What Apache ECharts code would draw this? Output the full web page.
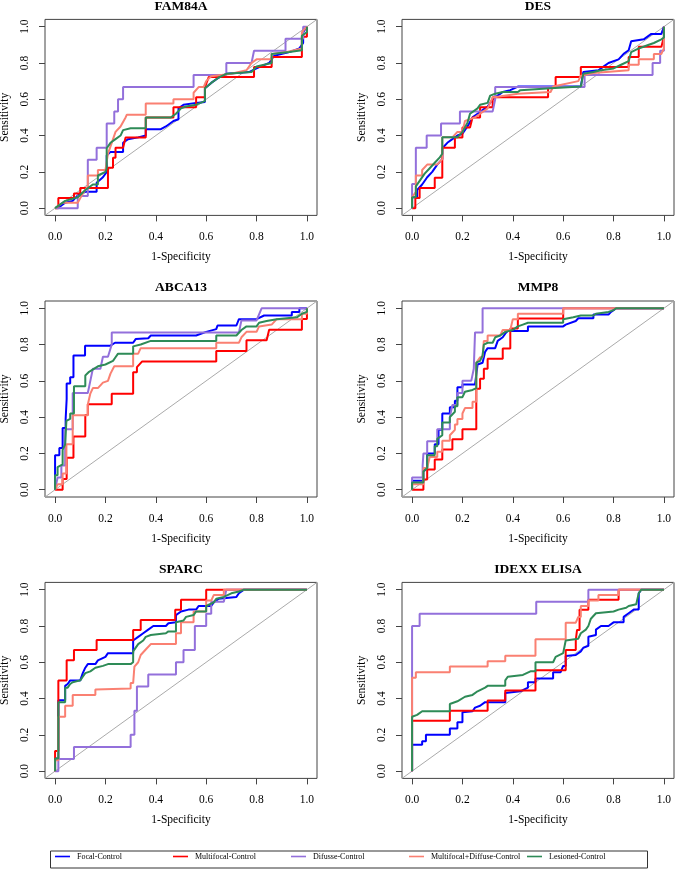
<!DOCTYPE html>
<html>
<head>
<meta charset="utf-8">
<script src="https://cdn.jsdelivr.net/npm/echarts@6/dist/echarts.min.js"></script>
<style>
html,body{margin:0;padding:0;background:#fff;}
#chart{width:675px;height:869px;}
</style>
</head>
<body>
<div id="chart"></div>
<script>
// ---------- DATA ----------
const panelTitles = ['FAM84A', 'DES', 'ABCA13', 'MMP8', 'SPARC', 'IDEXX ELISA'];
const seriesNames = ['Focal-Control', 'Multifocal-Control', 'Difusse-Control', 'Multifocal+Diffuse-Control', 'Lesioned-Control'];
const tickValues = [0, 0.2, 0.4, 0.6, 0.8, 1.0];
const xAxisTitle = '1-Specificity';
const yAxisTitle = 'Sensitivity';

// points are [1-specificity, sensitivity]
const FAM84A_focal = [[0,0],[0.02,0.01],[0.04,0.03],[0.07,0.04],[0.09,0.07],[0.12,0.09],[0.165,0.09],[0.165,0.14],[0.19,0.17],[0.205,0.2],[0.205,0.29],[0.22,0.31],[0.27,0.31],[0.27,0.36],[0.29,0.38],[0.33,0.39],[0.36,0.4],[0.36,0.435],[0.42,0.435],[0.44,0.45],[0.47,0.48],[0.49,0.49],[0.49,0.55],[0.51,0.57],[0.56,0.58],[0.595,0.585],[0.595,0.66],[0.62,0.69],[0.65,0.72],[0.68,0.74],[0.77,0.75],[0.8,0.77],[0.85,0.8],[0.87,0.84],[0.93,0.86],[0.97,0.88],[0.985,0.91],[0.985,0.97],[1,1]];
const FAM84A_multifocal = [[0,0],[0.013,0],[0.013,0.056],[0.075,0.056],[0.075,0.08],[0.1,0.08],[0.1,0.111],[0.21,0.111],[0.21,0.222],[0.23,0.222],[0.23,0.278],[0.24,0.278],[0.24,0.333],[0.27,0.333],[0.28,0.389],[0.36,0.389],[0.36,0.5],[0.47,0.5],[0.47,0.556],[0.56,0.556],[0.56,0.611],[0.595,0.611],[0.595,0.667],[0.61,0.722],[0.79,0.722],[0.79,0.778],[0.86,0.778],[0.86,0.833],[0.98,0.833],[0.98,0.944],[1,0.944],[1,1]];
const FAM84A_difusse = [[0,0],[0.09,0],[0.09,0.067],[0.13,0.067],[0.13,0.267],[0.165,0.267],[0.165,0.333],[0.205,0.333],[0.205,0.467],[0.235,0.467],[0.235,0.533],[0.25,0.533],[0.25,0.6],[0.27,0.6],[0.27,0.667],[0.55,0.667],[0.55,0.733],[0.68,0.733],[0.68,0.8],[0.78,0.8],[0.79,0.867],[0.915,0.867],[0.915,0.933],[0.985,0.933],[0.985,1],[1,1]];
const FAM84A_multiDiffuse = [[0,0],[0.03,0.03],[0.09,0.03],[0.11,0.08],[0.13,0.12],[0.13,0.18],[0.17,0.18],[0.17,0.21],[0.2,0.21],[0.21,0.3],[0.225,0.36],[0.24,0.42],[0.26,0.45],[0.28,0.5],[0.285,0.515],[0.36,0.515],[0.36,0.576],[0.47,0.576],[0.47,0.6],[0.55,0.6],[0.55,0.636],[0.57,0.667],[0.59,0.667],[0.6,0.7],[0.62,0.727],[0.7,0.74],[0.76,0.76],[0.78,0.8],[0.8,0.82],[0.86,0.82],[0.86,0.85],[0.92,0.86],[0.98,0.88],[0.98,0.97],[1,1]];
const FAM84A_lesioned = [[0,0],[0.04,0.04],[0.09,0.06],[0.12,0.1],[0.15,0.13],[0.17,0.13],[0.17,0.18],[0.2,0.2],[0.205,0.22],[0.205,0.33],[0.22,0.36],[0.24,0.38],[0.26,0.4],[0.27,0.43],[0.3,0.44],[0.36,0.44],[0.36,0.5],[0.46,0.5],[0.48,0.52],[0.5,0.55],[0.52,0.56],[0.56,0.57],[0.595,0.59],[0.595,0.66],[0.62,0.69],[0.65,0.72],[0.68,0.74],[0.78,0.75],[0.8,0.78],[0.86,0.8],[0.86,0.85],[0.93,0.86],[0.98,0.87],[0.98,0.95],[1,0.97],[1,1]];

const DES_focal = [[0,0],[0,0.06],[0.02,0.06],[0.02,0.1],[0.04,0.13],[0.06,0.17],[0.08,0.2],[0.1,0.24],[0.12,0.27],[0.12,0.33],[0.14,0.36],[0.16,0.38],[0.18,0.4],[0.2,0.41],[0.22,0.45],[0.24,0.5],[0.26,0.52],[0.28,0.54],[0.3,0.56],[0.32,0.6],[0.34,0.62],[0.36,0.64],[0.39,0.65],[0.42,0.67],[0.67,0.67],[0.68,0.75],[0.74,0.76],[0.76,0.78],[0.78,0.8],[0.82,0.82],[0.84,0.85],[0.86,0.87],[0.87,0.92],[0.92,0.93],[0.95,0.96],[0.99,0.96],[1,1]];
const DES_multifocal = [[0,0],[0.013,0],[0.013,0.056],[0.03,0.056],[0.03,0.111],[0.09,0.111],[0.09,0.167],[0.12,0.167],[0.12,0.333],[0.17,0.333],[0.17,0.389],[0.2,0.389],[0.2,0.444],[0.23,0.444],[0.24,0.5],[0.27,0.5],[0.27,0.556],[0.32,0.556],[0.32,0.611],[0.54,0.611],[0.54,0.667],[0.57,0.667],[0.57,0.722],[0.67,0.722],[0.67,0.778],[0.86,0.778],[0.86,0.833],[0.9,0.833],[0.9,0.889],[0.99,0.889],[1,0.944],[1,1]];
const DES_difusse = [[0,0],[0,0.133],[0.015,0.133],[0.015,0.333],[0.058,0.333],[0.058,0.4],[0.115,0.4],[0.115,0.467],[0.19,0.467],[0.19,0.533],[0.32,0.533],[0.33,0.6],[0.33,0.667],[0.685,0.667],[0.685,0.733],[0.955,0.733],[0.955,0.8],[0.985,0.8],[0.985,0.867],[1,0.867],[1,1]];
const DES_multiDiffuse = [[0,0],[0,0.06],[0.015,0.09],[0.015,0.18],[0.04,0.18],[0.04,0.21],[0.06,0.24],[0.1,0.24],[0.12,0.27],[0.12,0.39],[0.16,0.39],[0.18,0.42],[0.2,0.42],[0.21,0.48],[0.25,0.5],[0.27,0.52],[0.3,0.55],[0.31,0.58],[0.32,0.61],[0.42,0.63],[0.55,0.64],[0.56,0.67],[0.66,0.7],[0.67,0.73],[0.72,0.745],[0.86,0.76],[0.86,0.79],[0.9,0.79],[0.9,0.82],[0.96,0.82],[0.96,0.85],[0.99,0.85],[1,0.88],[1,1]];
const DES_lesioned = [[0,0],[0,0.06],[0.015,0.06],[0.015,0.12],[0.03,0.15],[0.05,0.19],[0.07,0.22],[0.09,0.25],[0.11,0.28],[0.12,0.3],[0.12,0.39],[0.18,0.39],[0.2,0.42],[0.22,0.47],[0.23,0.52],[0.26,0.55],[0.27,0.57],[0.3,0.58],[0.31,0.62],[0.33,0.63],[0.36,0.64],[0.42,0.64],[0.43,0.65],[0.55,0.66],[0.67,0.67],[0.68,0.74],[0.72,0.75],[0.75,0.76],[0.8,0.77],[0.83,0.79],[0.86,0.81],[0.87,0.86],[0.9,0.88],[0.94,0.9],[0.96,0.91],[0.99,0.93],[1,0.94],[1,1]];

const ABCA13_focal = [[0,0],[0,0.19],[0.017,0.19],[0.017,0.23],[0.03,0.23],[0.03,0.34],[0.042,0.34],[0.042,0.39],[0.046,0.5],[0.046,0.586],[0.06,0.586],[0.06,0.62],[0.073,0.62],[0.073,0.74],[0.119,0.74],[0.119,0.794],[0.22,0.794],[0.238,0.81],[0.31,0.81],[0.32,0.83],[0.37,0.835],[0.38,0.85],[0.56,0.85],[0.6,0.87],[0.64,0.885],[0.645,0.905],[0.72,0.905],[0.73,0.94],[0.8,0.94],[0.83,0.96],[0.94,0.96],[0.94,0.98],[0.97,0.98],[0.97,1],[1,1]];
const ABCA13_multifocal = [[0,0],[0.03,0],[0.03,0.059],[0.046,0.059],[0.046,0.176],[0.073,0.176],[0.073,0.294],[0.12,0.294],[0.12,0.412],[0.13,0.412],[0.13,0.471],[0.225,0.471],[0.225,0.529],[0.31,0.529],[0.31,0.647],[0.325,0.647],[0.325,0.676],[0.345,0.706],[0.64,0.706],[0.64,0.765],[0.76,0.765],[0.76,0.824],[0.84,0.824],[0.85,0.882],[0.98,0.882],[0.98,0.941],[1,0.941],[1,1]];
const ABCA13_difusse = [[0,0],[0.01,0.067],[0.025,0.067],[0.025,0.133],[0.04,0.133],[0.04,0.333],[0.07,0.333],[0.07,0.533],[0.13,0.533],[0.14,0.6],[0.15,0.667],[0.18,0.667],[0.19,0.733],[0.21,0.733],[0.225,0.8],[0.225,0.867],[0.73,0.867],[0.74,0.933],[0.8,0.933],[0.82,1],[1,1]];
const ABCA13_multiDiffuse = [[0,0],[0.01,0.03],[0.03,0.03],[0.03,0.09],[0.045,0.09],[0.045,0.25],[0.07,0.25],[0.07,0.41],[0.13,0.41],[0.13,0.47],[0.14,0.53],[0.15,0.56],[0.17,0.56],[0.19,0.59],[0.21,0.6],[0.22,0.64],[0.235,0.68],[0.31,0.68],[0.31,0.75],[0.33,0.75],[0.34,0.78],[0.64,0.78],[0.64,0.81],[0.73,0.81],[0.74,0.84],[0.76,0.87],[0.8,0.87],[0.81,0.9],[0.86,0.91],[0.88,0.94],[0.98,0.94],[0.98,0.97],[1,0.97],[1,1]];
const ABCA13_lesioned = [[0,0],[0,0.08],[0.01,0.08],[0.01,0.125],[0.03,0.14],[0.03,0.22],[0.04,0.25],[0.045,0.38],[0.06,0.39],[0.06,0.42],[0.075,0.42],[0.075,0.57],[0.12,0.57],[0.12,0.63],[0.135,0.65],[0.14,0.66],[0.17,0.68],[0.2,0.69],[0.23,0.71],[0.24,0.73],[0.25,0.75],[0.31,0.75],[0.31,0.79],[0.34,0.8],[0.38,0.82],[0.64,0.82],[0.64,0.85],[0.72,0.85],[0.74,0.88],[0.76,0.9],[0.8,0.9],[0.81,0.92],[0.84,0.93],[0.88,0.94],[0.96,0.95],[0.98,0.97],[1,0.98],[1,1]];

const MMP8_focal = [[0,0],[0,0.05],[0.045,0.05],[0.045,0.1],[0.06,0.12],[0.06,0.2],[0.09,0.2],[0.09,0.25],[0.105,0.25],[0.105,0.33],[0.12,0.33],[0.12,0.42],[0.15,0.42],[0.15,0.455],[0.17,0.455],[0.17,0.49],[0.18,0.49],[0.18,0.565],[0.2,0.565],[0.2,0.58],[0.25,0.58],[0.26,0.69],[0.28,0.7],[0.29,0.76],[0.3,0.78],[0.33,0.78],[0.34,0.82],[0.36,0.84],[0.37,0.86],[0.38,0.875],[0.46,0.875],[0.46,0.9],[0.6,0.9],[0.61,0.91],[0.65,0.93],[0.66,0.945],[0.72,0.945],[0.72,0.965],[0.78,0.965],[0.79,0.98],[0.8,0.99],[0.81,1],[1,1]];
const MMP8_multifocal = [[0,0],[0.045,0],[0.045,0.056],[0.06,0.056],[0.06,0.111],[0.09,0.111],[0.09,0.167],[0.12,0.167],[0.12,0.222],[0.16,0.222],[0.16,0.278],[0.2,0.278],[0.2,0.333],[0.255,0.333],[0.255,0.556],[0.27,0.556],[0.27,0.611],[0.285,0.611],[0.285,0.667],[0.3,0.667],[0.3,0.722],[0.36,0.722],[0.36,0.778],[0.39,0.778],[0.39,0.889],[0.42,0.889],[0.42,0.944],[0.6,0.944],[0.6,1],[1,1]];
const MMP8_difusse = [[0,0],[0,0.067],[0.042,0.067],[0.042,0.133],[0.045,0.2],[0.06,0.2],[0.06,0.267],[0.1,0.267],[0.1,0.333],[0.15,0.333],[0.15,0.4],[0.16,0.467],[0.18,0.467],[0.18,0.533],[0.2,0.533],[0.2,0.6],[0.235,0.6],[0.245,0.667],[0.25,0.867],[0.28,0.867],[0.28,1],[1,1]];
const MMP8_multiDiffuse = [[0,0],[0,0.03],[0.045,0.03],[0.045,0.12],[0.06,0.12],[0.07,0.18],[0.1,0.18],[0.1,0.21],[0.12,0.21],[0.12,0.27],[0.15,0.27],[0.15,0.3],[0.17,0.33],[0.17,0.36],[0.18,0.36],[0.18,0.39],[0.2,0.39],[0.2,0.42],[0.21,0.45],[0.24,0.45],[0.24,0.485],[0.255,0.485],[0.255,0.7],[0.27,0.73],[0.28,0.73],[0.285,0.82],[0.3,0.82],[0.3,0.85],[0.35,0.85],[0.36,0.88],[0.39,0.88],[0.4,0.94],[0.42,0.94],[0.42,0.97],[0.6,0.97],[0.6,1],[1,1]];
const MMP8_lesioned = [[0,0],[0,0.04],[0.045,0.04],[0.045,0.1],[0.06,0.12],[0.06,0.19],[0.09,0.19],[0.09,0.24],[0.1,0.24],[0.1,0.28],[0.12,0.3],[0.12,0.37],[0.15,0.37],[0.15,0.4],[0.17,0.43],[0.17,0.46],[0.18,0.46],[0.18,0.51],[0.2,0.51],[0.21,0.54],[0.24,0.55],[0.255,0.56],[0.255,0.7],[0.27,0.71],[0.28,0.74],[0.285,0.8],[0.3,0.81],[0.32,0.81],[0.33,0.84],[0.35,0.85],[0.37,0.87],[0.4,0.88],[0.42,0.9],[0.44,0.91],[0.46,0.92],[0.6,0.92],[0.6,0.94],[0.64,0.95],[0.67,0.96],[0.72,0.96],[0.73,0.97],[0.78,0.98],[0.8,0.99],[0.81,1],[1,1]];

const SPARC_focal = [[0,0],[0,0.07],[0.013,0.07],[0.013,0.39],[0.04,0.39],[0.04,0.47],[0.05,0.48],[0.06,0.5],[0.1,0.5],[0.11,0.54],[0.12,0.57],[0.13,0.59],[0.16,0.59],[0.17,0.61],[0.2,0.63],[0.21,0.65],[0.31,0.65],[0.31,0.72],[0.33,0.74],[0.35,0.76],[0.37,0.78],[0.39,0.8],[0.44,0.8],[0.45,0.815],[0.48,0.82],[0.48,0.86],[0.5,0.88],[0.53,0.89],[0.56,0.89],[0.57,0.91],[0.62,0.91],[0.63,0.93],[0.65,0.95],[0.72,0.96],[0.73,0.98],[0.75,1],[1,1]];
const SPARC_multifocal = [[0,0],[0,0.111],[0.013,0.111],[0.013,0.5],[0.046,0.5],[0.046,0.611],[0.075,0.611],[0.075,0.667],[0.165,0.667],[0.165,0.722],[0.31,0.722],[0.31,0.778],[0.34,0.778],[0.34,0.833],[0.477,0.833],[0.477,0.889],[0.5,0.889],[0.5,0.944],[0.6,0.944],[0.6,1],[1,1]];
const SPARC_difusse = [[0,0],[0.013,0],[0.013,0.067],[0.075,0.067],[0.075,0.133],[0.3,0.133],[0.3,0.2],[0.315,0.2],[0.315,0.333],[0.325,0.333],[0.325,0.467],[0.37,0.467],[0.37,0.533],[0.48,0.533],[0.48,0.6],[0.51,0.6],[0.51,0.667],[0.555,0.667],[0.555,0.8],[0.6,0.8],[0.6,0.867],[0.62,0.867],[0.62,0.933],[0.67,0.933],[0.68,1],[1,1]];
const SPARC_multiDiffuse = [[0,0],[0,0.06],[0.013,0.06],[0.013,0.3],[0.04,0.3],[0.04,0.36],[0.07,0.36],[0.07,0.42],[0.16,0.42],[0.16,0.45],[0.3,0.455],[0.3,0.485],[0.31,0.485],[0.315,0.576],[0.33,0.6],[0.34,0.64],[0.36,0.67],[0.38,0.7],[0.48,0.7],[0.48,0.76],[0.5,0.76],[0.5,0.82],[0.55,0.82],[0.55,0.88],[0.6,0.88],[0.6,0.94],[0.62,0.94],[0.63,0.97],[0.67,0.97],[0.67,1],[1,1]];
const SPARC_lesioned = [[0,0],[0,0.07],[0.013,0.07],[0.013,0.38],[0.04,0.38],[0.04,0.46],[0.05,0.46],[0.06,0.48],[0.07,0.49],[0.1,0.5],[0.11,0.52],[0.12,0.54],[0.14,0.55],[0.16,0.57],[0.19,0.58],[0.21,0.59],[0.3,0.59],[0.31,0.6],[0.31,0.66],[0.33,0.7],[0.35,0.72],[0.36,0.74],[0.38,0.75],[0.44,0.76],[0.45,0.77],[0.48,0.77],[0.48,0.82],[0.51,0.83],[0.52,0.85],[0.55,0.86],[0.56,0.88],[0.6,0.88],[0.6,0.91],[0.63,0.93],[0.64,0.95],[0.67,0.96],[0.7,0.98],[0.73,0.99],[0.75,1],[1,1]];

const IDEXX_focal = [[0,0],[0,0.145],[0.04,0.145],[0.04,0.165],[0.055,0.165],[0.055,0.2],[0.15,0.2],[0.15,0.235],[0.18,0.235],[0.18,0.27],[0.2,0.27],[0.2,0.325],[0.24,0.33],[0.25,0.35],[0.27,0.36],[0.29,0.38],[0.37,0.38],[0.37,0.43],[0.43,0.44],[0.43,0.45],[0.46,0.46],[0.46,0.49],[0.49,0.49],[0.49,0.51],[0.56,0.51],[0.56,0.545],[0.59,0.545],[0.6,0.58],[0.61,0.58],[0.61,0.635],[0.65,0.64],[0.67,0.66],[0.68,0.68],[0.7,0.69],[0.7,0.74],[0.73,0.75],[0.73,0.78],[0.75,0.8],[0.78,0.8],[0.8,0.82],[0.84,0.82],[0.84,0.85],[0.86,0.87],[0.88,0.89],[0.9,0.89],[0.9,0.98],[0.91,1],[1,1]];
const IDEXX_multifocal = [[0,0],[0,0.278],[0.15,0.278],[0.15,0.333],[0.3,0.333],[0.3,0.389],[0.37,0.389],[0.37,0.444],[0.49,0.444],[0.49,0.556],[0.61,0.556],[0.61,0.667],[0.65,0.667],[0.65,0.722],[0.655,0.778],[0.665,0.778],[0.665,0.889],[0.7,0.889],[0.7,0.944],[0.82,0.944],[0.82,1],[1,1]];
const IDEXX_difusse = [[0,0],[0,0.8],[0.03,0.8],[0.03,0.867],[0.493,0.867],[0.493,0.933],[0.7,0.933],[0.7,1],[1,1]];
const IDEXX_multiDiffuse = [[0,0],[0,0.515],[0.015,0.515],[0.015,0.545],[0.15,0.545],[0.15,0.576],[0.3,0.576],[0.3,0.606],[0.37,0.606],[0.37,0.636],[0.49,0.636],[0.49,0.727],[0.61,0.727],[0.61,0.818],[0.65,0.818],[0.66,0.85],[0.67,0.85],[0.67,0.91],[0.7,0.91],[0.7,0.94],[0.74,0.94],[0.74,0.97],[0.82,0.97],[0.82,1],[1,1]];
const IDEXX_lesioned = [[0,0],[0,0.3],[0.02,0.31],[0.04,0.33],[0.15,0.33],[0.15,0.37],[0.18,0.385],[0.21,0.41],[0.24,0.42],[0.26,0.44],[0.29,0.46],[0.3,0.47],[0.37,0.47],[0.37,0.5],[0.38,0.52],[0.44,0.53],[0.47,0.55],[0.49,0.55],[0.49,0.6],[0.56,0.6],[0.57,0.63],[0.6,0.65],[0.61,0.72],[0.66,0.73],[0.67,0.76],[0.69,0.78],[0.7,0.8],[0.71,0.84],[0.73,0.87],[0.8,0.88],[0.82,0.89],[0.85,0.9],[0.86,0.91],[0.89,0.92],[0.9,0.98],[0.91,1],[1,1]];

const panelCurves = [
  [FAM84A_focal, FAM84A_multifocal, FAM84A_difusse, FAM84A_multiDiffuse, FAM84A_lesioned],
  [DES_focal, DES_multifocal, DES_difusse, DES_multiDiffuse, DES_lesioned],
  [ABCA13_focal, ABCA13_multifocal, ABCA13_difusse, ABCA13_multiDiffuse, ABCA13_lesioned],
  [MMP8_focal, MMP8_multifocal, MMP8_difusse, MMP8_multiDiffuse, MMP8_lesioned],
  [SPARC_focal, SPARC_multifocal, SPARC_difusse, SPARC_multiDiffuse, SPARC_lesioned],
  [IDEXX_focal, IDEXX_multifocal, IDEXX_difusse, IDEXX_multiDiffuse, IDEXX_lesioned]
];
const diagonalLine = [[-0.04, -0.04], [1.04, 1.04]];

// ---------- STYLE / LAYOUT ----------
const colors = ['#0000FF', '#FF0000', '#9370DB', '#FA8072', '#2E8B57'];
const FONT = '"Liberation Serif", "DejaVu Serif", serif';
const colLeft = [45, 402];
const rowTop = [19.4, 301, 582.4];
const boxW = 272, boxH = 196;

const grids = [], xAxes = [], yAxes = [], titles = [], series = [];
for (let i = 0; i < 6; i++) {
  const c = i % 2, r = Math.floor(i / 2);
  grids.push({
    left: colLeft[c], top: rowTop[r], width: boxW, height: boxH,
    show: true, borderColor: '#444', borderWidth: 1, backgroundColor: 'transparent',
    containLabel: false, outerBoundsMode: 'none'
  });
  const common = {
    type: 'value', gridIndex: i, min: -0.04, max: 1.04,
    splitLine: { show: false },
    axisLine: { show: false, onZero: false },
    axisTick: { show: true, length: 6, inside: false, customValues: tickValues, lineStyle: { color: '#444', width: 1 } },
    nameLocation: 'middle',
    nameTextStyle: { fontFamily: FONT, fontSize: 11.5, color: '#000' }
  };
  xAxes.push(Object.assign({}, common, {
    position: 'bottom',
    name: xAxisTitle, nameGap: 36,
    axisLabel: { customValues: tickValues, margin: 16, fontFamily: FONT, fontSize: 11.5, color: '#000',
      formatter: v => v.toFixed(1) }
  }));
  yAxes.push(Object.assign({}, common, {
    position: 'left',
    name: yAxisTitle, nameGap: 34,
    axisLabel: { customValues: tickValues, margin: 14, rotate: 90, fontFamily: FONT, fontSize: 11.5, color: '#000',
      formatter: v => v.toFixed(1) }
  }));
  titles.push({
    text: panelTitles[i], left: colLeft[c] + boxW / 2, top: rowTop[r] - 20, textAlign: 'center', padding: 0,
    textStyle: { fontFamily: FONT, fontWeight: 'bold', fontSize: 13.5, color: '#000' }
  });
  series.push({
    type: 'line', xAxisIndex: i, yAxisIndex: i, data: diagonalLine, symbol: 'none', silent: true,
    lineStyle: { color: '#aaaaaa', width: 1 }, z: 1
  });
  panelCurves[i].forEach((pts, k) => {
    series.push({
      type: 'line', name: seriesNames[k], xAxisIndex: i, yAxisIndex: i, data: pts,
      symbol: 'none', color: colors[k], lineStyle: { color: colors[k], width: 2 }, z: 2 + k
    });
  });
}

// one legend per entry, evenly spaced inside one framed box
const legendSlot = 118;
const legends = seriesNames.map((n, k) => ({
  data: [n],
  left: 55 + legendSlot * k, top: 852.5,
  orient: 'horizontal',
  icon: 'rect',
  itemWidth: 15, itemHeight: 1.6, itemGap: 0,
  padding: 0,
  textStyle: { fontFamily: FONT, fontSize: 8, color: '#000', padding: [0, 0, 0, 2] },
  selectedMode: false
}));

const option = {
  animation: false,
  backgroundColor: '#fff',
  title: titles,
  grid: grids,
  xAxis: xAxes,
  yAxis: yAxes,
  legend: legends,
  graphic: [{
    type: 'rect', left: 48, top: 848.5, silent: true,
    shape: { width: 597, height: 17 },
    style: { fill: 'none', stroke: '#333', lineWidth: 1 }
  }],
  series: series
};

const chart = echarts.init(document.getElementById('chart'), null, { renderer: 'canvas' });
chart.setOption(option);
</script>
</body>
</html>
